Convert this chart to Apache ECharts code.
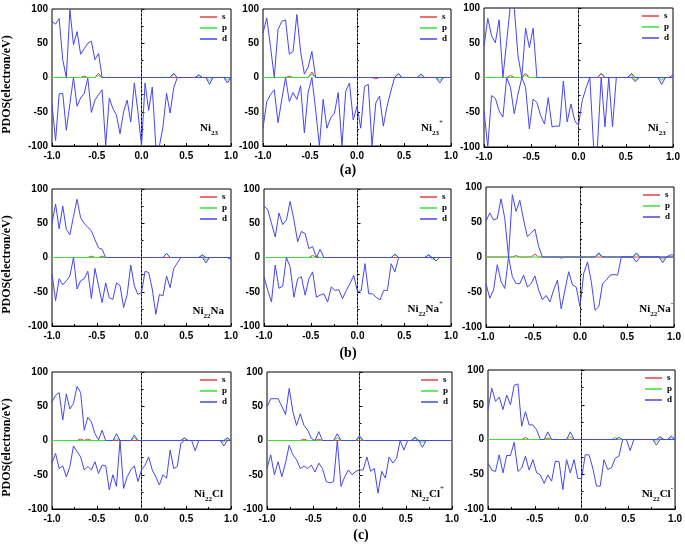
<!DOCTYPE html>
<html><head><meta charset="utf-8">
<script src="https://cdn.jsdelivr.net/npm/echarts@6/dist/echarts.min.js"></script>
<style>html,body{margin:0;padding:0;background:#fff}#c{width:685px;height:544px}</style>
</head><body><div id="c"></div>
<script>
// Energy grid (eV)
const energy = [-1.00,-0.96,-0.92,-0.88,-0.84,-0.80,-0.76,-0.72,-0.68,-0.64,-0.60,-0.56,-0.52,-0.48,-0.44,-0.40,-0.36,-0.32,-0.28,-0.24,-0.20,-0.16,-0.12,-0.08,-0.04,0.00,0.04,0.08,0.12,0.16,0.20,0.24,0.28,0.32,0.36,0.40,0.44,0.48,0.52,0.56,0.60,0.64,0.68,0.72,0.76,0.80,0.84,0.88,0.92,0.96,1.00];
const xTickLabels = ['-1.0','-0.5','0.0','0.5','1.0'];
const yTickLabels = ['-100','-50','0','50','100'];
const legendNames = ['s','p','d'];
const rowLabels = ['(a)','(b)','(c)'];
const yName = 'PDOS(electron/eV)';

// d-orbital, spin up (positive) and spin down (negative)
const dUp1 = [82,78,86,26,0,99,48,67,34,42,50,53,26,35,0, 0,0,0,0,0, 0,0,0,0,0, 0,0,0,0,0, 0,0,0,0,6, 0,0,0,0,0, 0,4,0,0,0, 0,0,0,0,0, 0];
const dDn1 = [-40,-92,-24,-23,-77,-38,0,-42,-30,-23,-1,-51,-33,-25,-18,-100,-30,-45,-55,-82,-50,-33,-65,-8,-50,-100,-8,-48,-14,-100,-100,-72,-23,-52,-15,0, 0,0,0,0,0,0,0,0,-10,0,0,0,0,-8,0];
const dUp2 = [65,87,45,0,70,82,84,34,38,92,38,5,15,38,0, 0,0,0,0,0,0,0,0,0,0,0,0,0,0,0,0,0,0,0,0,0, 6, 0,0,0,0,0, 5, 0,0,0,0,0,0,0,0];
const dDn2 = [-74,-35,-25,-18,-66,-32,0,-35,-22,-32,-12,-81,-22,0,-47,-100,-32,-74,-59,-52,-22,-100,-20,-8,-62,-42,-74,-13,-10,-100,-37,-27,-71,-42,-20,0, 0,0,0,0,0,0,0,0,0,0,0,-8,0,0,0];
const dUp3 = [45,85,60,50,83,0,52,105,100,31,0,71,43,71,0, 0,0,0,0,0,0,0,0,0,0,0,0,0,0,0,0, 6, 0,0,0,0,0,0,0, 6, 0,0,0,0,0,0,0,0,0,0, 4];
const dDn3 = [-48,-100,-26,-30,-48,-57,0,-14,-52,-24,0,-14,-74,-31,-36,-55,-67,-29,-71,-70,-70,-5,-64,-38,-62,-69,-33,-15,0,-100,-100,0,-71,0,-71,0, 0,0,0,0,-6,0,0,0,0,0,0,-10,0,0,0];
const dUp4 = [50,78,42,75,41,33,60,85,58,50,44,39,26,14,12,0, 0,0,0,0,0,0,0,0,0,0,0,0,0,0,0,0, 6, 0,0,0,0,0,0,0,0,0, 4, 0,0,0,0,0,0,0,0];
const dDn4 = [-24,-63,-31,-40,-34,-27,0,-46,-34,-31,-20,-60,-16,-41,-66,-37,-59,-61,-37,-41,-73,-54,-11,-41,-54,-51,-20,-22,-46,-83,-54,-56,-27,-44,-16,-8,0, 0,0,0,0,0,0,-8,0,0,0,0,0,0,-3];
const dUp5 = [75,70,50,30,65,48,55,82,55,23,38,35,13,16,0,12,0, 0,0,0,0,0,0,0,0,0,0,0,0,0,0,0,0,0,0, 5, 0,0,0,0,0,0,0,0, 4, 0,0,0,0,0,0];
const dDn5 = [-28,-48,-65,-11,-45,-42,0,-14,-58,-31,-28,-55,-31,-21,-58,-55,-53,-65,-43,-48,-47,-60,-48,-38,-26,-50,-48,-9,-53,-53,-58,-62,-48,-48,-9,-21,0, 0,0,0,0,0,0,0,0,0,-5,0,0,0,0];
const dUp6 = [51,63,53,55,83,55,0,89,65,81,53,29,34,40,15,0, 0,0,0,0,0,0,0,0,0,0,0,0,0,0, 6, 0,0,0,0,0,0,0,0,0, 6, 0,0,0,0,0,0,0,0, 3,3];
const dDn6 = [-38,-59,-47,-11,-35,-45,0,-28,-38,-38,-26,-43,-38,-27,-47,-61,-55,-64,-47,-33,-74,-47,-21,-40,-43,-71,-23,-7,-35,-76,-71,-38,-33,-26,-25,-26,0, 0,0,0,-7,0,0,0,0,0,0,-8,0,0,0];
const dUp7 = [56,66,70,30,68,46,54,79,70,15,34,27,10,1,15,0,0,0,10,0,0,0,0,8,0, 0,0,0,0,0,0,0,0,0,0,0,0, 4, 0,0,0,0,0,0,0,0,0,0,0, 4,0];
const dDn7 = [-33,-19,-41,-37,-53,-38,-8,-16,-24,-43,-38,-43,-31,-48,-36,-37,-72,-50,-67,0,-70,-53,-43,-37,-60,-43,-36,-24,-43,-53,-65,-50,-55,-14,-41,-38,-4,0,0,0,-15,0, 0,0,0,0,0,0,-8,0,0];
const dUp8 = [49,61,61,61,50,38,76,42,22,39,22,15,3,0,13,0,0,0,0,10,0,0,0,0,0,7, 0,0,0,0,0,0,0,0,0,0,0,0,0,0, 5, 0,0,0,0,0,0,0,0,0,0];
const dDn8 = [-41,-21,-50,-31,-53,-33,-7,-21,-28,-41,-37,-41,-36,-46,-33,-41,-60,-62,-60,0,-67,-53,-43,-50,-45,-43,-43,-24,-45,-41,-77,-45,-55,-24,-33,-26,0,-14,0, 0,0,0,-10,0,0,0,0,0,0,0,0];
const dUp9 = [43,74,55,61,43,64,50,78,80,19,40,21,21,14,0,0,11,0,0,0,0,0,11,0, 0,0,0,0,0,0,0,0,0,0,0, 3, 0,0,0,0,0,0,0,0,0,0, 4, 0,0, 5,0];
const dDn9 = [-34,-44,-46,-22,-48,-23,-23,-4,-46,-41,-24,-44,-29,-48,-51,-63,-51,-60,-31,-32,-72,-29,-48,-29,-56,-56,-22,-22,-41,-67,-67,-29,-43,-41,-27,-24,0,0,-16,0, 0,0,0,0,0,-8,0,0,0,0,0];

// s and p orbitals: [energy, PDOS]
const s1 = [[-1,0],[-0.68,0],[-0.64,2],[-0.6,0],[-0.52,0],[-0.48,6],[-0.44,0],[1,0]];
const p1 = [[-1,0],[-0.52,0],[-0.48,3],[-0.44,0],[0.32,0],[0.36,5],[0.4,0],[0.6,0],[0.64,3],[0.68,0],[0.72,0],[0.76,-5],[0.8,0],[0.92,0],[0.96,-4],[1,0]];
const s2 = [[-1,0],[-0.76,0],[-0.72,2],[-0.68,0],[-0.52,0],[-0.48,8],[-0.44,0],[0.16,0],[0.2,-2],[0.24,0],[1,0]];
const p2 = [[-1,0],[-0.52,0],[-0.48,5],[-0.44,0],[0.4,0],[0.44,5],[0.48,0],[0.64,0],[0.68,4],[0.72,0],[0.84,0],[0.88,-4],[0.92,0],[1,0]];
const s3 = [[-1,0],[-0.76,0],[-0.72,3],[-0.68,0],[-0.6,0],[-0.56,6],[-0.52,0],[1,0]];
const p3 = [[-1,0],[-0.6,0],[-0.56,3],[-0.52,0],[0.2,0],[0.24,5],[0.28,0],[0.52,0],[0.56,4],[0.6,-4],[0.64,0],[0.84,0],[0.88,-4],[0.92,0],[1,0]];
const s4 = [[-1,0],[-0.6,0],[-0.56,2],[-0.52,0],[-0.48,0],[-0.44,2],[-0.4,0],[1,0]];
const p4 = [[-1,0],[0.24,0],[0.28,6],[0.32,0],[0.64,0],[0.68,3],[0.72,-4],[0.76,0],[1,0]];
const s5 = [[-1,0],[-0.52,0],[-0.48,3],[-0.44,0],[1,0]];
const p5 = [[-1,0],[-0.48,0],[-0.44,2],[-0.4,0],[0.36,0],[0.4,4],[0.44,0],[0.72,0],[0.76,3],[0.8,-3],[0.84,0],[1,0]];
const s6 = [[-1,0],[-0.72,0],[-0.68,2],[-0.64,0],[-0.52,0],[-0.48,4],[-0.44,0],[1,0]];
const p6 = [[-1,0],[-0.24,0],[-0.2,-2],[-0.16,0],[0.16,0],[0.2,4],[0.24,0],[0.56,0],[0.6,4],[0.64,0],[0.84,0],[0.88,-3],[0.92,0],[1,0]];
const s7 = [[-1,0],[-0.72,0],[-0.68,2],[-0.64,0],[-0.6,2],[-0.56,0],[1,0]];
const p7 = [[-1,0],[-0.32,0],[-0.28,3],[-0.24,0],[-0.12,0],[-0.08,4],[-0.04,0],[0.44,0],[0.48,3],[0.52,0],[0.88,0],[0.92,-3],[0.96,3],[1,0]];
const s8 = [[-1,0],[-0.64,0],[-0.6,2],[-0.56,0],[-0.48,0],[-0.44,2],[-0.4,0],[1,0]];
const p8 = [[-1,0],[-0.28,0],[-0.24,4],[-0.2,0],[-0.04,0],[0,4],[0.04,0],[0.56,0],[0.6,3],[0.64,0],[0.68,-3],[0.72,0],[1,0]];
const s9 = [[-1,0],[-0.64,0],[-0.6,3],[-0.56,0],[-0.4,0],[-0.36,2],[-0.32,0],[1,0]];
const p9 = [[-1,0],[-0.16,0],[-0.12,4],[-0.08,0],[0.32,0],[0.36,3],[0.4,0],[0.76,0],[0.8,-3],[0.84,3],[0.88,0],[0.92,0],[0.96,3],[1,0]];

// Panel labels: base, subscript, tail, superscript
const panelLabels = [
  ['Ni','23','',''], ['Ni','23','','+'], ['Ni','23','','-'],
  ['Ni','22','Na',''], ['Ni','22','Na','+'], ['Ni','22','Na','-'],
  ['Ni','22','Cl',''], ['Ni','22','Cl','+'], ['Ni','22','Cl','-']
];

const panelData = [
  [s1,p1,dUp1,dDn1],[s2,p2,dUp2,dDn2],[s3,p3,dUp3,dDn3],
  [s4,p4,dUp4,dDn4],[s5,p5,dUp5,dDn5],[s6,p6,dUp6,dDn6],
  [s7,p7,dUp7,dDn7],[s8,p8,dUp8,dDn8],[s9,p9,dUp9,dDn9]
];

// ---------- layout ----------
const grids = [
  {left:46, top:9, width:185, height:137},
  {left:263, top:9, width:188, height:137},
  {left:484, top:8, width:189, height:139},
  {left:46, top:189, width:185, height:137},
  {left:264, top:189, width:187, height:137},
  {left:486, top:187, width:188, height:140},
  {left:46, top:372, width:185, height:137},
  {left:267, top:372, width:185, height:137},
  {left:488, top:370, width:188, height:139}
];
const labelPos = [[218,128],[443,128],[668,128],[224,311],[443,309],[673,309],[223,494],[444,494],[673,494]];
const rowLabelPos = [[348,170],[348,353],[361,535]];

const COL = {s:'#e0403f', p:'#38e038', d:'#4646ee'};
const SERIF = '"Liberation Serif","Times New Roman",serif';
const SANS = '"Liberation Sans",Arial,sans-serif';

const xAxes = [], yAxes = [], series = [], legends = [], graphics = [];
grids.forEach((g, k) => {
  xAxes.push({
    gridIndex:k, type:'value', min:-1, max:1, interval:0.5,
    axisLine:{onZero:false, lineStyle:{color:'#000', width:1}},
    axisTick:{inside:true, length:3, lineStyle:{color:'#000'}},
    minorTick:{show:true, splitNumber:2, length:2, lineStyle:{color:'#000'}},
    splitLine:{show:false}, minorSplitLine:{show:false},
    axisLabel:{color:'#000', fontWeight:'bold', fontSize:10, fontFamily:SANS, margin:5,
      formatter: v => xTickLabels[Math.round((v + 1) * 2)]}
  });
  yAxes.push({
    gridIndex:k, type:'value', min:-100, max:100, interval:50,
    axisLine:{show:true, lineStyle:{color:'#000', width:1}},
    axisTick:{inside:true, length:3, lineStyle:{color:'#000'}},
    minorTick:{show:true, splitNumber:2, length:2, lineStyle:{color:'#000'}},
    splitLine:{show:false}, minorSplitLine:{show:false},
    axisLabel:{color:'#000', fontWeight:'bold', fontSize:10, fontFamily:SANS, margin:4,
      formatter: v => yTickLabels[Math.round((v + 100) / 50)]},
    name: (k % 3 === 0) ? yName : '',
    nameLocation:'middle', nameGap:39, nameRotate:90,
    nameTextStyle:{color:'#000', fontWeight:'bold', fontSize:12, fontFamily:SERIF, padding:[0,14,0,0]}
  });
  const [s, p, du, dd] = panelData[k];
  const base = {type:'line', xAxisIndex:k, yAxisIndex:k, symbol:'none', showSymbol:false,
    animation:false, silent:true, clip:true};
  series.push(Object.assign({}, base, {name:'s', data:s, lineStyle:{width:1, color:COL.s}, itemStyle:{color:COL.s},
    markLine:{silent:true, symbol:['none','none'], label:{show:false},
      lineStyle:{color:'#666', type:[2,2], width:1}, data:[{xAxis:0}]}}));
  series.push(Object.assign({}, base, {name:'p', data:p, lineStyle:{width:1, color:COL.p}, itemStyle:{color:COL.p}}));
  series.push(Object.assign({}, base, {name:'d', data:energy.map((e,i)=>[e, du[i]]), lineStyle:{width:1, color:COL.d}, itemStyle:{color:COL.d}}));
  series.push(Object.assign({}, base, {name:'d', data:energy.map((e,i)=>[e, dd[i]]), lineStyle:{width:1, color:COL.d}, itemStyle:{color:COL.d}}));
  legends.push({
    data:legendNames, orient:'vertical', left:g.left + g.width - 31, top:g.top + 3,
    icon:'rect', itemWidth:17, itemHeight:1.5, itemGap:1, selectedMode:false, padding:0,
    textStyle:{color:'#000', fontFamily:SERIF, fontWeight:'bold', fontSize:9, lineHeight:10}
  });
  const L = panelLabels[k];
  let txt = '{n|' + L[0] + '}{b|' + L[1] + '}';
  if (L[2]) txt += '{n|' + L[2] + '}';
  if (L[3]) txt += '{t|' + L[3] + '}';
  graphics.push({
    type:'text', x:labelPos[k][0], y:labelPos[k][1], silent:true,
    style:{text:txt, align:'right', verticalAlign:'middle', fill:'#000',
      rich:{
        n:{fontFamily:SERIF, fontWeight:'bold', fontSize:11, lineHeight:18, verticalAlign:'middle', fill:'#000'},
        b:{fontFamily:SERIF, fontWeight:'bold', fontSize:7, verticalAlign:'bottom', fill:'#000'},
        t:{fontFamily:SERIF, fontWeight:'bold', fontSize:7, verticalAlign:'top', fill:'#000'}
      }}
  });
});
rowLabels.forEach((t, r) => {
  graphics.push({type:'text', x:rowLabelPos[r][0], y:rowLabelPos[r][1], silent:true,
    style:{text:t, align:'center', verticalAlign:'middle', fill:'#000',
      font:'bold 14px ' + SERIF}});
});

const chart = echarts.init(document.getElementById('c'), null, {renderer:'canvas'});
chart.setOption({
  backgroundColor:'#fff', animation:false,
  grid: grids.map(g => Object.assign({show:true, borderColor:'#000', borderWidth:1, backgroundColor:'transparent'}, g)),
  xAxis:xAxes, yAxis:yAxes, legend:legends, series:series, graphic:graphics
});
</script></body></html>
